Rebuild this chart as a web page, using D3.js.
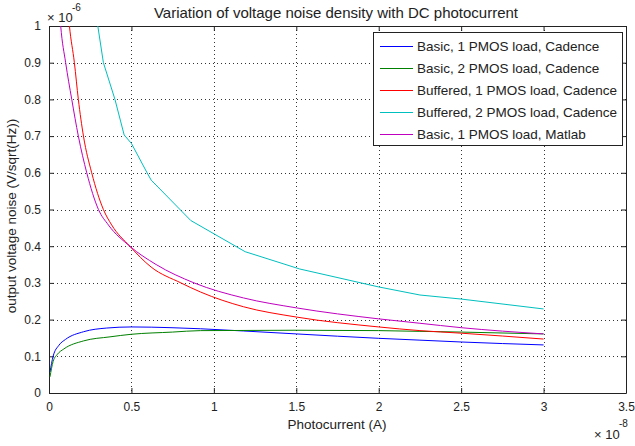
<!DOCTYPE html>
<html>
<head>
<meta charset="utf-8">
<script src="https://cdn.jsdelivr.net/npm/d3@7"></script>
<style>
  body { margin: 0; background: #fff; }
  svg text { font-family: "Liberation Sans", Arial, sans-serif; fill: #222; }
</style>
</head>
<body>
<svg id="chart" width="635" height="446"></svg>
<script>
// photocurrent in 1e-8 A, noise in 1e-6 V/sqrt(Hz)
var basic1Cad = [[0.006,0.057],[0.025,0.10],[0.06,0.13],[0.1,0.146],[0.21,0.167],[0.35,0.177],[0.5,0.18],[0.74,0.178],[0.92,0.175],[1.18,0.169],[1.5,0.161],[2.0,0.149],[2.25,0.144],[2.5,0.139],[3.0,0.131]];
var basic2Cad = [[0.006,0.044],[0.025,0.086],[0.05,0.105],[0.09,0.12],[0.21,0.142],[0.37,0.153],[0.5,0.16],[0.75,0.166],[0.92,0.17],[1.5,0.171],[2.0,0.17],[2.25,0.168],[2.5,0.166],[3.0,0.161]];
var buff1Cad = [[0.105,1.1],[0.124,1.0],[0.154,0.9],[0.178,0.8],[0.209,0.7],[0.259,0.6],[0.33,0.5],[0.38,0.458],[0.49,0.4],[0.62,0.343],[0.8,0.3],[0.92,0.275],[1.18,0.235],[1.5,0.207],[2.0,0.18],[2.25,0.17],[2.5,0.163],[3.0,0.147]];
var buff2Cad = [[0.25,1.14],[0.296,1.0],[0.33,0.9],[0.4,0.8],[0.456,0.703],[0.5,0.68],[0.595,0.6],[0.62,0.58],[0.86,0.47],[1.19,0.385],[1.52,0.338],[2.0,0.289],[2.25,0.267],[2.5,0.256],[3.0,0.229]];
var basic1Mat = [[0.058,1.08],[0.071,1.0],[0.101,0.9],[0.138,0.8],[0.178,0.7],[0.229,0.6],[0.30,0.5],[0.36,0.458],[0.49,0.4],[0.65,0.35],[0.88,0.3],[1.18,0.259],[1.5,0.232],[2.0,0.202],[2.25,0.19],[2.5,0.178],[3.0,0.161]];

var seriesNames = ["Basic, 1 PMOS load, Cadence","Basic, 2 PMOS load, Cadence","Buffered, 1 PMOS load, Cadence","Buffered, 2 PMOS load, Cadence","Basic, 1 PMOS load, Matlab"];
var seriesColors = ["#0000ff","#008000","#ff0000","#00bfbf","#bf00bf"];
var seriesSmooth = [true, true, true, false, true];
var xTicks = [0,0.5,1,1.5,2,2.5,3,3.5];
var yTicks = [0,0.1,0.2,0.3,0.4,0.5,0.6,0.7,0.8,0.9,1];

var series = [basic1Cad, basic2Cad, buff1Cad, buff2Cad, basic1Mat];

var svg = d3.select("#chart");
var m = {left: 49, top: 26, right: 626, bottom: 393};
var w = m.right - m.left, h = m.bottom - m.top;

var x = d3.scaleLinear().domain([0,3.5]).range([m.left, m.right]);
var y = d3.scaleLinear().domain([0,1]).range([m.bottom, m.top]);

svg.append("defs").append("clipPath").attr("id","clip")
  .append("rect").attr("x", m.left).attr("y", m.top).attr("width", w).attr("height", h);

// grid
var grid = svg.append("g").attr("stroke","#333").attr("stroke-width",1).attr("stroke-dasharray","1,3");
grid.selectAll(".gx").data(xTicks.slice(1,-1)).enter().append("line")
  .attr("x1", function(d){ return Math.round(x(d))+0.5; }).attr("x2", function(d){ return Math.round(x(d))+0.5; })
  .attr("y1", m.top).attr("y2", m.bottom);
grid.selectAll(".gy").data(yTicks.slice(1,-1)).enter().append("line")
  .attr("y1", function(d){ return Math.round(y(d))+0.5; }).attr("y2", function(d){ return Math.round(y(d))+0.5; })
  .attr("x1", m.left).attr("x2", m.right);

// axes, ticks inside on all four sides
var fmt = function(d){ return d3.format("~g")(d); };
svg.append("g").attr("transform","translate(0,"+m.bottom+")")
  .call(d3.axisBottom(x).tickValues(xTicks).tickSizeInner(-5).tickSizeOuter(0).tickPadding(9).tickFormat(fmt));
svg.append("g").attr("transform","translate(0,"+m.top+")")
  .call(d3.axisTop(x).tickValues(xTicks).tickSizeInner(-5).tickSizeOuter(0).tickFormat(""));
svg.append("g").attr("transform","translate("+m.left+",0)")
  .call(d3.axisLeft(y).tickValues(yTicks).tickSizeInner(-5).tickSizeOuter(0).tickPadding(8).tickFormat(fmt));
svg.append("g").attr("transform","translate("+m.right+",0)")
  .call(d3.axisRight(y).tickValues(yTicks).tickSizeInner(-5).tickSizeOuter(0).tickFormat(""));
svg.selectAll(".domain").attr("stroke","#222");
svg.selectAll(".tick line").attr("stroke","#222");
svg.selectAll(".tick text").attr("font-size", 12).attr("fill","#222")
  .attr("font-family", "Liberation Sans, Arial, sans-serif");

// lines
var smooth = d3.line().curve(d3.curveMonotoneX).x(function(d){ return x(d[0]); }).y(function(d){ return y(d[1]); });
var straight = d3.line().x(function(d){ return x(d[0]); }).y(function(d){ return y(d[1]); });
svg.append("g").attr("clip-path","url(#clip)").selectAll("path").data(series).enter().append("path")
  .attr("d", function(d,i){ return seriesSmooth[i] ? smooth(d) : straight(d); }).attr("fill","none")
  .attr("stroke", function(d,i){ return seriesColors[i]; }).attr("stroke-width", 1);

// legend
var lg = svg.append("g");
lg.append("rect").attr("x", 373.5).attr("y", 32.5).attr("width", 249).attr("height", 113)
  .attr("fill","#fff").attr("stroke","#222");
seriesNames.forEach(function(n, i) {
  var yy = 46 + i*22;
  lg.append("line").attr("x1", 380).attr("x2", 413).attr("y1", yy+0.5).attr("y2", yy+0.5)
    .attr("stroke", seriesColors[i]).attr("stroke-width", 1);
  lg.append("text").attr("x", 417).attr("y", yy+5).attr("font-size", 13.5).text(n);
});

// titles
svg.append("text").attr("x", 336).attr("y", 18).attr("text-anchor","middle").attr("font-size", 15)
  .text("Variation of voltage noise density with DC photocurrent");
svg.append("text").attr("x", 337).attr("y", 429).attr("text-anchor","middle").attr("font-size", 13.5)
  .text("Photocurrent (A)");
svg.append("text").attr("transform","translate(16,216) rotate(-90)").attr("text-anchor","middle").attr("font-size", 13.5)
  .text("output voltage noise (V/sqrt(Hz))");

// exponents
svg.append("text").attr("x", 47).attr("y", 22).attr("font-size", 13).text("\u00d7 10");
svg.append("text").attr("x", 72).attr("y", 11).attr("font-size", 10).text("-6");
svg.append("text").attr("x", 594).attr("y", 439).attr("font-size", 13).text("\u00d7 10");
svg.append("text").attr("x", 619).attr("y", 427).attr("font-size", 10).text("-8");
</script>
</body>
</html>
